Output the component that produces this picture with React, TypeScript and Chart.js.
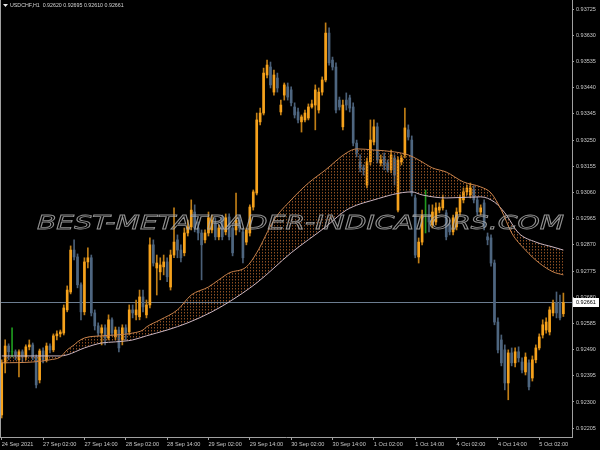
import React, { useEffect, useRef } from 'react';
import Chart from 'chart.js/auto';

const symbolName = 'USDCHF,H1';
const watermarkText = 'BEST-METATRADER-INDICATORS.COM';
const slotCount = 166;
const priceMin = 0.92173;
const priceMax = 0.93758;

const timeLabelIdx = [0, 12, 24, 36, 48, 60, 72, 84, 96, 108, 120, 132, 144, 156];
const timeLabels = [
  '24 Sep 2021', '27 Sep 02:00', '27 Sep 14:00', '28 Sep 02:00', '28 Sep 14:00',
  '29 Sep 02:00', '29 Sep 14:00', '30 Sep 02:00', '30 Sep 14:00', '1 Oct 02:00',
  '1 Oct 14:00', '4 Oct 02:00', '4 Oct 14:00', '5 Oct 02:00',
];
const yTickValues = [
  0.92205, 0.923, 0.92395, 0.9249, 0.92585, 0.9268, 0.92775, 0.9287, 0.92965,
  0.9306, 0.93155, 0.9325, 0.93345, 0.9344, 0.93535, 0.9363, 0.93725,
];

const opens = [
  0.92253, 0.92442, 0.92503, 0.92482, 0.92482, 0.92453, 0.92482, 0.92463, 0.925, 0.92507,
  0.92463, 0.9238, 0.92485, 0.92453, 0.92503, 0.92489, 0.9254, 0.92547, 0.9255, 0.92634,
  0.92699, 0.92851, 0.92826, 0.92725, 0.92627, 0.92808, 0.92823, 0.92623, 0.92576, 0.9255,
  0.92569, 0.92532, 0.92598, 0.92536, 0.92561, 0.92525, 0.92569, 0.92554, 0.92634, 0.92616,
  0.92609, 0.92681, 0.92616, 0.92652, 0.9287, 0.92786, 0.92772, 0.9279, 0.92808, 0.92717,
  0.92833, 0.92888, 0.92851, 0.92841, 0.92913, 0.92935, 0.92989, 0.92931, 0.92913, 0.92888,
  0.92913, 0.92924, 0.92949, 0.92899, 0.92968, 0.92917, 0.92971, 0.92931, 0.92924, 0.9296,
  0.92917, 0.9288, 0.92913, 0.93007, 0.93058, 0.93316, 0.93348, 0.93486, 0.93515, 0.93424,
  0.93475, 0.93352, 0.93413, 0.93443, 0.93432, 0.9337, 0.93352, 0.93316, 0.93323, 0.9333,
  0.9337, 0.93377, 0.93359, 0.93424, 0.93468, 0.93638, 0.9354, 0.93515, 0.93395, 0.93298,
  0.93395, 0.93403, 0.9337, 0.93239, 0.93171, 0.93149, 0.93087, 0.93171, 0.93243, 0.93298,
  0.93167, 0.93189, 0.93167, 0.93142, 0.93185, 0.92996, 0.93171, 0.93196, 0.93287, 0.9325,
  0.9304, 0.92826, 0.9288, 0.92978, 0.92978, 0.92942, 0.92953, 0.92996, 0.93004, 0.92986,
  0.92942, 0.92917, 0.92935, 0.92989, 0.93033, 0.93062, 0.93051, 0.93069, 0.93033, 0.92989,
  0.93022, 0.92899, 0.92895, 0.92804, 0.9259, 0.92525, 0.92489, 0.92369, 0.92478, 0.92442,
  0.92482, 0.92445, 0.92409, 0.92442, 0.92387, 0.92453, 0.92496, 0.92543, 0.92561, 0.92554,
  0.92623, 0.92659, 0.92659, 0.9262,
];
const highs = [
  0.92453, 0.92525, 0.92511, 0.92569, 0.92489, 0.92489, 0.92489, 0.92507, 0.92525, 0.92514,
  0.92471, 0.92492, 0.92496, 0.92514, 0.92511, 0.92547, 0.92558, 0.92561, 0.92652, 0.92721,
  0.92866, 0.92888, 0.92837, 0.92732, 0.92823, 0.92859, 0.92833, 0.92634, 0.92587, 0.9258,
  0.9258, 0.92616, 0.92605, 0.92572, 0.92572, 0.9258, 0.9258, 0.92652, 0.92652, 0.9267,
  0.92706, 0.92706, 0.9267, 0.92895, 0.92888, 0.92833, 0.92823, 0.92833, 0.92823, 0.92851,
  0.93004, 0.92906, 0.9287, 0.92931, 0.9296, 0.93033, 0.93015, 0.92953, 0.92924, 0.92924,
  0.92989, 0.92978, 0.92968, 0.92942, 0.92978, 0.92982, 0.92982, 0.92942, 0.93058, 0.92978,
  0.92931, 0.92931, 0.93015, 0.93069, 0.93348, 0.93366, 0.93511, 0.9354, 0.93533, 0.93504,
  0.93493, 0.93395, 0.93457, 0.93457, 0.93443, 0.93385, 0.93366, 0.93341, 0.93359, 0.93381,
  0.93395, 0.9345, 0.93439, 0.93479, 0.93675, 0.93657, 0.93551, 0.9353, 0.93406, 0.93395,
  0.93421, 0.93413, 0.93385, 0.9325, 0.93196, 0.9316, 0.93185, 0.93323, 0.93323, 0.93312,
  0.93196, 0.93203, 0.93178, 0.93214, 0.93196, 0.93189, 0.93196, 0.93366, 0.93305, 0.93265,
  0.93051, 0.92895, 0.92996, 0.93069, 0.93015, 0.93015, 0.93022, 0.93022, 0.93051, 0.92996,
  0.9296, 0.92978, 0.93004, 0.93051, 0.93076, 0.93087, 0.93094, 0.93084, 0.93044, 0.93015,
  0.93033, 0.92913, 0.92906, 0.92815, 0.92605, 0.92543, 0.92507, 0.92489, 0.92496, 0.92496,
  0.925, 0.9246, 0.92478, 0.92453, 0.92467, 0.92507, 0.92547, 0.92598, 0.92605, 0.92645,
  0.9267, 0.92699, 0.92688, 0.92695,
];
const lows = [
  0.92242, 0.92405, 0.92453, 0.92463, 0.92453, 0.92391, 0.92445, 0.92453, 0.92489, 0.92453,
  0.92351, 0.92369, 0.92442, 0.92445, 0.92478, 0.92482, 0.92525, 0.92536, 0.92543, 0.92627,
  0.92692, 0.92815, 0.92714, 0.92598, 0.92616, 0.92786, 0.92612, 0.92561, 0.9254, 0.92507,
  0.92507, 0.92525, 0.9254, 0.92525, 0.92482, 0.92507, 0.92525, 0.92543, 0.92605, 0.92598,
  0.92598, 0.92627, 0.92605, 0.92641, 0.92793, 0.92688, 0.92743, 0.92761, 0.92736, 0.92706,
  0.92823, 0.92823, 0.92808, 0.9283, 0.92902, 0.92924, 0.92917, 0.92888, 0.92743, 0.92877,
  0.92902, 0.92913, 0.92888, 0.92888, 0.92888, 0.92906, 0.92888, 0.9283, 0.92906, 0.92917,
  0.92804, 0.9287, 0.92902, 0.92996, 0.93051, 0.93305, 0.93341, 0.93475, 0.93439, 0.93413,
  0.93424, 0.93341, 0.93395, 0.93395, 0.93374, 0.9333, 0.93312, 0.93279, 0.93316, 0.93323,
  0.93366, 0.93287, 0.93348, 0.93413, 0.93461, 0.93522, 0.93504, 0.93348, 0.93359, 0.93287,
  0.93359, 0.93352, 0.93229, 0.93189, 0.93134, 0.93123, 0.93076, 0.9316, 0.93232, 0.93167,
  0.93156, 0.93142, 0.93134, 0.93131, 0.93087, 0.92989, 0.9316, 0.93185, 0.9325, 0.93047,
  0.92823, 0.92804, 0.9287, 0.92913, 0.92917, 0.92931, 0.92942, 0.92986, 0.92996, 0.92888,
  0.92906, 0.92906, 0.92924, 0.92978, 0.93022, 0.93051, 0.9304, 0.93022, 0.92978, 0.92978,
  0.92924, 0.9287, 0.92793, 0.9258, 0.92478, 0.92431, 0.92344, 0.92308, 0.92431, 0.92427,
  0.92445, 0.92405, 0.92398, 0.92344, 0.92376, 0.92442, 0.92489, 0.92532, 0.9255, 0.92543,
  0.92612, 0.92605, 0.92598, 0.9261,
];
const closes = [
  0.92442, 0.92503, 0.92482, 0.92482, 0.92471, 0.92482, 0.92463, 0.925, 0.92507, 0.92463,
  0.92362, 0.92485, 0.92453, 0.92503, 0.92489, 0.9254, 0.92547, 0.92554, 0.92641, 0.92706,
  0.92851, 0.92826, 0.92725, 0.92627, 0.92808, 0.92823, 0.92623, 0.92576, 0.9255, 0.92569,
  0.92532, 0.92598, 0.9255, 0.92561, 0.92496, 0.92569, 0.9255, 0.92634, 0.92623, 0.92634,
  0.92681, 0.92645, 0.92652, 0.9287, 0.92804, 0.92804, 0.92797, 0.92808, 0.92754, 0.92833,
  0.9288, 0.92851, 0.92823, 0.92913, 0.92935, 0.92996, 0.92931, 0.92913, 0.9287, 0.92913,
  0.92968, 0.9296, 0.92899, 0.92931, 0.92899, 0.92968, 0.92899, 0.92841, 0.9296, 0.92931,
  0.92823, 0.92924, 0.93007, 0.93062, 0.93323, 0.93348, 0.93493, 0.93522, 0.9345, 0.93486,
  0.93439, 0.93377, 0.9345, 0.93406, 0.93385, 0.93341, 0.93323, 0.93334, 0.93348, 0.9337,
  0.93381, 0.93432, 0.93424, 0.93468, 0.93638, 0.9353, 0.93515, 0.93359, 0.9337, 0.93377,
  0.93377, 0.93366, 0.93239, 0.93203, 0.93149, 0.93142, 0.93171, 0.9325, 0.93298, 0.93178,
  0.93178, 0.9316, 0.93142, 0.93196, 0.93123, 0.93178, 0.93185, 0.93294, 0.93261, 0.93058,
  0.92833, 0.9288, 0.92978, 0.92978, 0.92953, 0.92989, 0.93004, 0.93007, 0.93033, 0.92899,
  0.92917, 0.92968, 0.92989, 0.9304, 0.93062, 0.93076, 0.93076, 0.93033, 0.92989, 0.93004,
  0.92935, 0.92888, 0.92804, 0.9259, 0.92489, 0.92442, 0.92369, 0.92478, 0.92442, 0.92482,
  0.9246, 0.92416, 0.92463, 0.92355, 0.92453, 0.92496, 0.92536, 0.9258, 0.9259, 0.92634,
  0.92659, 0.92623, 0.92605, 0.92661,
];

const bandAIdx = [
  0, 9, 14, 17, 19, 21, 22, 24, 29, 33, 38, 41, 42, 46, 51, 55, 60, 63, 66, 71,
  74, 79, 84, 89, 94, 100, 103, 108, 114, 118, 121, 125, 129, 134, 139, 142, 145, 148, 152, 156,
  160, 163,
];
const bandA = [
  0.92442, 0.92445, 0.92453, 0.92463, 0.92489, 0.92507, 0.92518, 0.92532, 0.9254, 0.92543,
  0.9255, 0.92561, 0.92572, 0.92598, 0.92634, 0.92688, 0.92717, 0.92743, 0.92768, 0.9279,
  0.92841, 0.9296, 0.93033, 0.93094, 0.93142, 0.93203, 0.93218, 0.93214, 0.93207, 0.93196,
  0.93178, 0.93149, 0.93134, 0.93098, 0.9308, 0.93058, 0.92996, 0.92913, 0.92851, 0.92804,
  0.92772, 0.92761,
];
const bandBIdx = [
  0, 9, 17, 19, 24, 29, 33, 38, 42, 48, 54, 61, 66, 74, 84, 94, 100, 108, 119, 122,
  129, 139, 143, 146, 150, 155, 160, 163,
];
const bandB = [
  0.92467, 0.92467, 0.92467, 0.92471, 0.92496, 0.92514, 0.92518, 0.92525, 0.9254, 0.92561,
  0.92587, 0.92627, 0.92663, 0.92732, 0.92841, 0.92935, 0.92996, 0.93033, 0.93062, 0.93051,
  0.9304, 0.93044, 0.93025, 0.92986, 0.92913, 0.9288, 0.92862, 0.92851,
];

const BULL = '#f6a21c';
const BEAR = '#4e6680';
const DOJI = '#1f9a1f';
const BULL_WICK = '#c07e16';
const BEAR_WICK = '#4a5f77';
const BAND_A = '#c9834c';
const BAND_B = '#cbb6c2';
const AXIS = '#a0a0a0';
const TEXT = '#c8c8c8';
const PRICE_LINE = '#6c7d90';
const FONT = '"Liberation Sans", Arial, sans-serif';

export default function App() {
  const ref = useRef<HTMLCanvasElement | null>(null);

  useEffect(() => {
    document.body.style.margin = '0';
    document.body.style.background = '#000';
    const canvas = ref.current!;
    const tile = document.createElement('canvas');
    tile.width = 3;
    tile.height = 3;
    const tctx = tile.getContext('2d')!;
    tctx.fillStyle = 'rgba(190,105,45,0.75)';
    tctx.fillRect(1, 0, 1, 1);
    tctx.fillStyle = 'rgba(190,105,45,0.35)';
    tctx.fillRect(1, 1, 1, 1);
    const pattern = canvas.getContext('2d')!.createPattern(tile, 'repeat');

    const idx = closes.map((_, i) => i);
    const kind = (i: number) => (opens[i] === closes[i] ? 0 : closes[i] > opens[i] ? 1 : -1);
    const bodyColors = idx.map((i) => (kind(i) === 0 ? DOJI : kind(i) > 0 ? BULL : BEAR));
    const wickColors = idx.map((i) => (kind(i) === 0 ? DOJI : kind(i) > 0 ? BULL_WICK : BEAR_WICK));
    const last = closes.length - 1;

    const overlay = {
      id: 'mtOverlay',
      beforeDatasetsDraw(chart: any) {
        const { ctx, chartArea: a, scales } = chart;
        const py = Math.round(scales.y.getPixelForValue(closes[last])) + 0.5;
        ctx.save();
        ctx.strokeStyle = PRICE_LINE;
        ctx.lineWidth = 1;
        ctx.beginPath();
        ctx.moveTo(a.left, py);
        ctx.lineTo(a.right, py);
        ctx.stroke();
        ctx.restore();
      },
      afterDatasetsDraw(chart: any) {
        const { ctx } = chart;
        ctx.save();
        ctx.font = 'italic 19px "DejaVu Sans"';
        const w = ctx.measureText(watermarkText).width;
        ctx.translate(37, 229);
        ctx.scale(527 / w, 1.05);
        ctx.strokeStyle = 'rgba(170,170,170,0.85)';
        ctx.lineWidth = 0.8;
        ctx.strokeText(watermarkText, 0, 0);
        ctx.restore();
      },
      afterDraw(chart: any) {
        const { ctx, chartArea: a, scales } = chart;
        ctx.save();
        ctx.strokeStyle = AXIS;
        ctx.lineWidth = 1;
        ctx.beginPath();
        ctx.moveTo(a.left + 0.5, a.top);
        ctx.lineTo(a.left + 0.5, a.bottom);
        ctx.stroke();
        ctx.fillStyle = '#e8e8e8';
        ctx.beginPath();
        ctx.moveTo(3, 4);
        ctx.lineTo(8, 4);
        ctx.lineTo(5.5, 7);
        ctx.closePath();
        ctx.fill();
        ctx.fillStyle = '#d4d4d4';
        ctx.font = '5.3px ' + FONT;
        ctx.textBaseline = 'alphabetic';
        ctx.textAlign = 'left';
        const head = symbolName + '  ' + [opens[last], highs[last], lows[last], closes[last]].map((v) => v.toFixed(5)).join(' ');
        ctx.fillText(head, 10, 7.2);
        const py = scales.y.getPixelForValue(closes[last]);
        ctx.fillStyle = '#ffffff';
        ctx.fillRect(a.right + 1, Math.round(py) - 4, 26, 9);
        ctx.fillStyle = '#000000';
        ctx.font = '5.5px ' + FONT;
        ctx.textBaseline = 'middle';
        ctx.fillText(closes[last].toFixed(5), a.right + 4, Math.round(py) + 0.5);
        ctx.restore();
      },
    };

    const chart = new Chart(canvas, {
      type: 'bar',
      data: {
        datasets: [
          {
            type: 'line',
            label: 'bandA',
            data: bandAIdx.map((x, k) => ({ x, y: bandA[k] })),
            borderColor: BAND_A,
            borderWidth: 1,
            pointRadius: 0,
            cubicInterpolationMode: 'monotone',
            fill: false,
            order: 0,
          },
          {
            type: 'line',
            label: 'bandB',
            data: bandBIdx.map((x, k) => ({ x, y: bandB[k] })),
            borderColor: BAND_B,
            borderWidth: 1,
            pointRadius: 0,
            cubicInterpolationMode: 'monotone',
            fill: '-1',
            backgroundColor: pattern as any,
            order: 0,
          },
          {
            type: 'bar',
            label: 'bodies',
            data: idx.map((i) => ({ x: i, y: [opens[i], closes[i]] })) as any,
            backgroundColor: bodyColors,
            barThickness: 2,
            grouped: false,
            order: 1,
          },
          {
            type: 'bar',
            label: 'wicks',
            data: idx.map((i) => ({ x: i, y: [lows[i], highs[i]] })) as any,
            backgroundColor: wickColors,
            barThickness: 1,
            grouped: false,
            order: 2,
          },
        ] as any,
      },
      options: {
        responsive: false,
        animation: false,
        devicePixelRatio: 1,
        events: [],
        layout: { padding: 0 },
        plugins: {
          legend: { display: false },
          tooltip: { enabled: false },
          title: { display: false },
        },
        scales: {
          x: {
            type: 'linear',
            position: 'bottom',
            min: -0.5,
            max: slotCount - 0.5,
            offset: false,
            afterBuildTicks: (s: any) => {
              s.ticks = timeLabelIdx.map((v) => ({ value: v }));
            },
            afterFit: (s: any) => {
              s.height = 13;
              s.paddingLeft = 0;
              s.paddingRight = 0;
            },
            grid: { display: true, drawOnChartArea: false, drawTicks: true, tickLength: 3, color: AXIS, offset: false },
            border: { display: true, color: AXIS },
            ticks: {
              autoSkip: false,
              maxRotation: 0,
              minRotation: 0,
              align: 'start',
              padding: 1,
              color: TEXT,
              font: { family: FONT, size: 5.6 },
              callback: (v: any) => {
                const k = timeLabelIdx.indexOf(Number(v));
                return k >= 0 ? timeLabels[k] : '';
              },
            },
          },
          y: {
            type: 'linear',
            position: 'right',
            min: priceMin,
            max: priceMax,
            afterBuildTicks: (s: any) => {
              s.ticks = yTickValues.map((v) => ({ value: v }));
            },
            afterFit: (s: any) => {
              s.width = 28;
              s.paddingTop = 0;
              s.paddingBottom = 0;
            },
            grid: { display: true, drawOnChartArea: false, drawTicks: true, tickLength: 2, color: AXIS },
            border: { display: true, color: AXIS },
            ticks: {
              autoSkip: false,
              padding: 2,
              color: TEXT,
              font: { family: FONT, size: 5.5 },
              callback: (v: any) => Number(v).toFixed(5),
            },
          },
        },
      } as any,
      plugins: [overlay],
    });

    return () => {
      chart.destroy();
    };
  }, []);

  return (
    <div style={{ position: 'fixed', left: 0, top: 0, width: 600, height: 450, background: '#000' }}>
      <canvas ref={ref} width={600} height={450} style={{ display: 'block' }} />
    </div>
  );
}
